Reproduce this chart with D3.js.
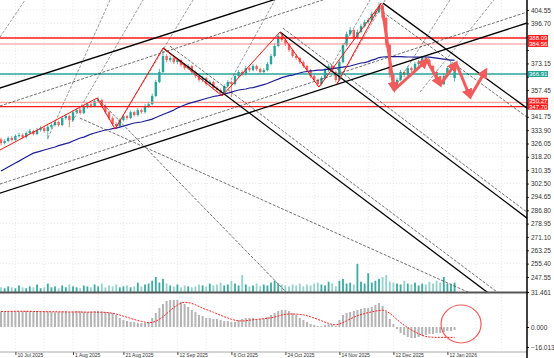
<!DOCTYPE html>
<html><head><meta charset="utf-8">
<script src="https://cdn.jsdelivr.net/npm/d3@7"></script>
<style>body{margin:0;background:#fff}svg{display:block;font-family:"Liberation Sans",Arial,sans-serif}</style>
</head><body><svg id="c" width="554" height="358"></svg>
<script>
// ---------- DATA ----------
const opens=[328.5,326.3,327.5,329.3,328.1,330.4,331.0,329.8,332.2,333.4,
331.6,334.0,335.1,333.4,335.7,336.9,338.7,336.9,341.0,342.2,
339.8,344.5,345.7,344.0,347.5,349.2,348.1,351.0,351.6,348.1,
344.5,341.0,337.5,336.3,339.8,342.2,341.0,344.5,342.8,345.7,
344.5,348.1,349.2,354.0,362.2,368.1,377.5,375.1,376.3,373.9,
375.1,372.2,370.4,371.6,368.1,365.7,363.4,364.5,361.0,362.2,
358.7,357.5,355.7,359.8,362.2,361.0,365.7,368.1,366.9,370.4,
369.2,371.6,369.8,368.1,369.2,372.8,377.5,383.4,389.2,386.9,
384.5,381.0,377.5,376.3,373.9,371.6,369.2,365.7,363.4,361.0,
364.5,369.2,371.6,368.1,363.4,373.9,383.9,390.4,392.8,388.1,
391.6,395.1,397.5,398.6,402.2,403.3,406.9,399.8,383.9,366.3,
359.8,363.4,368.1,366.3,370.4,369.2,372.8,373.9,376.3,375.1,
371.6,368.1,363.4,361.0,365.7,370.4,364.5];
const highs=[329.5,328.6,330.2,330.5,331.5,332.4,332.0,333.1,334.5,334.2,
335.2,336.3,336.0,337.0,338.0,339.8,339.5,342.0,343.4,343.0,
345.6,346.8,346.5,348.6,350.3,350.0,352.2,353.2,352.4,349.0,
345.4,342.0,338.6,340.8,343.4,343.0,345.6,345.3,346.9,346.6,
349.2,350.6,355.3,363.5,370.0,380.5,378.6,377.6,377.0,376.4,
375.8,373.2,372.8,372.4,369.0,366.6,365.8,365.2,363.4,363.0,
359.8,358.4,360.9,363.4,363.0,366.9,369.3,369.0,371.6,371.2,
372.9,372.4,370.6,370.4,374.0,378.8,384.8,390.8,390.2,387.6,
385.3,381.8,378.6,377.0,374.8,372.4,370.0,366.6,364.2,365.6,
370.4,372.8,372.3,369.0,375.0,385.2,391.8,394.6,393.4,393.0,
396.4,398.8,400.0,403.6,404.8,409.0,407.6,400.6,384.6,367.2,
364.8,369.4,369.0,371.6,371.2,374.0,375.2,377.6,377.2,375.9,
372.4,368.9,364.2,366.8,371.6,374.0,372.0];
const lows=[325.0,325.6,326.8,327.2,327.6,329.5,328.9,329.0,331.3,330.8,
330.9,333.0,332.5,328.5,334.8,336.0,335.8,336.2,340.0,335.7,
339.0,343.6,343.0,343.2,346.5,347.0,347.4,350.0,347.2,343.6,
340.0,336.5,334.8,335.6,339.0,340.0,340.3,341.8,341.9,343.5,
343.8,347.0,348.5,353.4,361.5,367.4,373.8,374.0,372.8,372.6,
371.0,369.3,369.5,367.0,364.6,362.3,362.4,360.0,359.8,357.6,
356.3,354.6,355.0,359.0,353.4,360.2,364.8,365.8,366.0,368.0,
368.4,368.8,367.0,367.2,368.5,372.0,376.8,382.6,385.8,383.4,
380.0,376.5,375.2,372.8,370.5,368.0,364.6,362.4,359.8,360.2,
363.8,368.4,367.0,362.0,362.8,373.2,383.0,389.4,387.0,387.2,
390.8,394.2,396.4,397.8,401.0,402.5,398.6,382.5,364.8,358.0,
358.8,362.6,365.0,365.5,368.0,368.4,371.8,373.0,374.0,370.5,
367.0,362.3,359.8,360.3,365.0,369.6,362.5];
const closes=[326.3,327.5,329.3,328.1,330.4,331.0,329.8,332.2,333.4,331.6,
334.0,335.1,333.4,335.7,336.9,338.7,336.9,341.0,342.2,339.8,
344.5,345.7,344.0,347.5,349.2,348.1,351.0,351.6,348.1,344.5,
341.0,337.5,336.3,339.8,342.2,341.0,344.5,342.8,345.7,344.5,
348.1,349.2,354.0,362.2,368.1,377.5,375.1,376.3,373.9,375.1,
372.2,370.4,371.6,368.1,365.7,363.4,364.5,361.0,362.2,358.7,
357.5,355.7,359.8,362.2,361.0,365.7,368.1,366.9,370.4,369.2,
371.6,369.8,368.1,369.2,372.8,377.5,383.4,389.2,386.9,384.5,
381.0,377.5,376.3,373.9,371.6,369.2,365.7,363.4,361.0,364.5,
369.2,371.6,368.1,363.4,373.9,383.9,390.4,392.8,388.1,391.6,
395.1,397.5,398.6,402.2,403.3,406.9,399.8,383.9,366.3,359.8,
363.4,368.1,366.3,370.4,369.2,372.8,373.9,376.3,375.1,371.6,
368.1,363.4,361.0,365.7,370.4,372.8,371.0];
const movingAvg=[309.9,311.0,312.2,313.4,314.6,315.7,316.9,318.1,319.3,320.4,
321.0,321.6,322.2,322.8,323.4,324.0,324.8,325.4,326.0,326.6,
327.5,328.4,329.3,329.8,330.7,331.6,332.2,332.8,333.4,334.0,
334.3,334.8,335.1,335.7,336.3,336.9,337.5,338.1,338.4,338.7,
339.3,339.8,340.4,341.3,342.2,343.1,344.0,344.8,345.7,346.9,
347.8,348.7,349.5,350.1,350.7,351.3,351.9,352.5,353.1,353.7,
354.0,354.5,355.1,355.7,356.3,356.9,357.5,357.8,358.1,358.7,
358.9,359.5,360.1,360.7,361.3,362.2,363.1,363.9,364.8,365.4,
366.0,366.3,366.9,367.5,368.1,368.4,368.7,368.9,369.2,369.2,
369.5,369.8,370.1,370.4,370.7,371.0,371.3,371.6,372.2,372.8,
373.4,373.6,374.2,375.1,375.7,376.6,376.9,377.0,377.1,377.1,
377.2,377.1,377.0,376.9,376.9,376.8,376.8,376.9,376.9,376.8,
376.6,376.3,376.0,375.7,375.4,375.1,375.1];
const volumes=[5,4,6,5,4,7,5,4,6,5,8,4,5,9,5,6,4,7,5,8,6,
5,4,7,6,5,8,6,9,5,7,6,8,5,6,7,5,6,10,6,8,9,
12,16,10,14,9,7,6,8,5,7,6,5,6,8,7,6,9,7,8,10,7,
8,12,9,7,18,8,6,7,9,6,8,7,10,12,9,8,7,6,8,7,9,
6,8,7,9,10,8,7,11,9,6,12,14,9,10,8,30,11,9,20,10,12,
14,16,18,11,10,9,8,12,9,8,10,7,9,8,11,9,12,10,16,9,8,10];
const macdHist=[12.0,12.4,12.6,12.8,12.6,12.4,12.8,13.0,12.6,12.4,12.2,12.6,12.8,12.4,12.0,11.8,12.2,12.6,12.4,12.0,12.4,12.8,12.6,12.2,12.0,12.4,12.8,13.0,12.4,12.0,11.6,
11.2,9.6,7.2,5.6,4.8,4.0,4.0,3.2,3.2,3.2,4.0,
7.2,11.2,15.2,18.4,20.8,21.6,21.6,21.6,20.0,18.4,16.0,
13.6,12.0,9.6,8.8,7.2,7.2,6.4,6.4,5.6,4.8,4.8,
4.0,4.0,5.6,6.4,7.2,7.2,7.2,6.4,6.4,6.4,
8.0,9.6,11.2,12.8,13.6,13.6,12.8,11.2,9.6,7.2,
5.6,4.0,2.4,1.6,0.8,0.8,1.6,2.4,1.6,0.8,
5.6,9.6,11.2,12.0,12.8,13.6,14.4,15.2,15.2,16.0,17.6,19.2,
16.8,12.0,6.4,2.4,-1.6,-4.8,-6.4,-8.0,-8.8,-8.8,-8.0,
-7.2,-6.4,-5.6,-5.6,-4.8,-4.8,-4.0,-3.2,-3.2,-2.4];
const macdSignal=[12.4,12.4,12.5,12.5,12.6,12.6,12.6,12.5,12.5,12.4,12.4,12.3,12.3,12.2,12.2,12.2,12.1,12.1,12.1,12.0,12.0,12.0,12.0,11.9,11.9,11.9,11.9,11.8,11.8,11.7,
11.4,11.0,10.4,9.6,8.7,7.8,6.9,6.0,5.2,4.5,3.9,3.4,
3.6,4.6,6.2,8.2,10.6,13.2,15.6,17.6,19.2,
19.8,19.6,18.9,17.8,16.4,15.0,14.0,
13.0,11.8,10.6,9.4,8.2,7.2,6.2,5.4,4.9,
4.8,5.0,5.4,5.8,6.1,6.4,6.6,6.9,
7.4,8.0,8.8,9.6,10.2,10.4,10.4,10.3,10.0,9.7,
9.0,8.2,7.2,6.1,5.0,3.9,2.9,2.1,1.6,
2.4,3.6,5.0,6.4,7.8,9.0,10.0,
10.8,11.5,12.1,12.7,13.2,13.5,
12.8,11.0,8.6,6.0,3.6,1.4,-0.6,-2.4,-4.0,-5.4,-6.6,-7.6,
-8.0,-8.2,-8.3,-8.3,-8.3,-8.3,-8.3,-8.3];

const priceTicks=["404.55","396.70","388.85","381.00","373.15","365.30","357.45","349.60","341.75","333.90","326.05","318.20","310.35","302.50","294.65","286.80","278.95","271.10","263.25","255.40","247.55"];
const dateIdx=[4,20,34,49,64,79,94,109,124];
const dateLabels=["10 Jul 2025","1 Aug 2025","21 Aug 2025","12 Sep 2025","6 Oct 2025","24 Oct 2025","14 Nov 2025","12 Dec 2025","12 Jan 2026"];
const gridIdx=[4,12,20,27,34,42,49,57,64,72,79,87,94,102,109,117,124,132,139];
const levelPrices=[388.09,384.56,366.91,350.27,347.70];
const levelLabels=["388.09","384.56","366.91","350.27","347.70"];
const levelKinds=["red","pink","teal","pink","red"];
const volumeMaxLabel="31.461";
const macdTicks=[0,-16.013];

// trend objects: [idx1, price1, idx2, price2]
const channelLines=[[-0.28,358.7,75.56,410.4],[-0.28,296.9,146.1,396.9],[106.1,408.6,146.1,346.9],[77.5,391.6,146.1,282.2],[45.0,382.2,135.0,238.7]];
const dashedLines=[[-0.28,302.2,146.1,403.3],[-0.28,348.1,77.5,402.2],[106.1,403.3,146.1,341.6],[78.3,393.9,146.1,285.7],[46.9,383.4,137.8,238.7],[26.7,352.8,79.2,238.7],[21.9,341.0,55.3,309.3]];
const steepRays=[[-0.28,388.6,6.67,410.4],[13.06,329.3,30.28,410.4],[19.72,338.7,39.44,410.4],[31.67,334.5,53.33,410.4],[61.4,354.0,76.1,410.4],[88.33,359.2,102.5,410.4],[93.33,361.0,106.7,410.4],[108.9,357.5,124.7,410.4],[116.4,356.3,136.9,410.4]];
const zigIdx=[-0.3,26.7,31.7,45.0,61.4,77.5,88.3,105.6];
const zigPrice=[322.2,352.8,334.6,382.2,354.0,391.6,359.2,408.6];
const zig2Idx=[93.3,105.6];
const zig2Price=[361.0,408.6];
const arrowIdx=[105.8,109.2,118.3,122.0,126.4,130.3,134.7];
const arrowPrice=[407.5,357.5,375.1,360.5,373.4,353.4,369.2];
const circleIdx=127.8, circleMacd=2.4;

// ---------- CHART ----------
const svg=d3.select("#c");
const PR=527;
const x=d3.scaleLinear().domain([0,126]).range([1,454.6]);
const y=d3.scaleLinear().domain([247.55,404.55]).range([277,10]);
const yv=d3.scaleLinear().domain([0,32]).range([292,262]);
const ym=d3.scaleLinear().domain([-16.013,0]).range([347,327]);

const defs=svg.append("defs");
defs.append("clipPath").attr("id","cp").append("rect").attr("x",0).attr("y",0).attr("width",PR).attr("height",292);
defs.append("clipPath").attr("id","cm").append("rect").attr("x",0).attr("y",293).attr("width",PR).attr("height",59);
defs.append("marker").attr("id","ah").attr("markerUnits","userSpaceOnUse").attr("markerWidth",11).attr("markerHeight",11)
  .attr("refX",8).attr("refY",5.5).attr("orient","auto")
  .append("path").attr("d","M0,0 L11,5.5 L0,11 Z").attr("fill","#f25b5b");

// grid
const grid=svg.append("g");
priceTicks.forEach(t=>grid.append("line").attr("x1",0).attr("x2",PR).attr("y1",y(+t)).attr("y2",y(+t))
  .attr("stroke","#dcdcdc").attr("stroke-width",0.6).attr("stroke-dasharray","1,2"));
gridIdx.forEach(i=>grid.append("line").attr("x1",x(i)).attr("x2",x(i)).attr("y1",0).attr("y2",352)
  .attr("stroke","#dcdcdc").attr("stroke-width",0.6).attr("stroke-dasharray","1,2"));

const pg=svg.append("g").attr("clip-path","url(#cp)");
// volume
pg.selectAll(".v").data(volumes).enter().append("rect")
  .attr("x",(d,i)=>x(i)-0.9).attr("width",1.8).attr("y",d=>yv(d)).attr("height",d=>292-yv(d))
  .attr("fill",(d,i)=>closes[i]>=opens[i]?"#3aab9f":"#92d2ca");

// candles
const up="#26a69a", dn="#ef5f5c";
closes.forEach((c,i)=>{
  const o=opens[i], col=c>=o?up:dn;
  pg.append("line").attr("x1",x(i)).attr("x2",x(i)).attr("y1",y(highs[i])).attr("y2",y(lows[i])).attr("stroke",col).attr("stroke-width",0.8);
  const t=y(Math.max(o,c)), b=y(Math.min(o,c));
  pg.append("rect").attr("x",x(i)-1.2).attr("width",2.4).attr("y",t).attr("height",Math.max(0.8,b-t)).attr("fill",col);
});

// horizontal levels
const levelColor={red:"#ff1a1a",pink:"#ff8a8a",teal:"#26a69a"};
levelPrices.forEach((p,k)=>pg.append("line").attr("x1",0).attr("x2",PR).attr("y1",y(p)).attr("y2",y(p))
  .attr("stroke",levelColor[levelKinds[k]]).attr("stroke-width",levelKinds[k]==="pink"?1:1.3));

// moving average
pg.append("path").datum(movingAvg).attr("fill","none").attr("stroke","#1d1d96").attr("stroke-width",1.2)
  .attr("d",d3.line().x((d,i)=>x(i)).y(d=>y(d)));

function fullLine(L){
  const x1=x(L[0]),y1=y(L[1]),x2=x(L[2]),y2=y(L[3]);
  const s=(y2-y1)/(x2-x1);
  return [[-60,y1+s*(-60-x1)],[620,y1+s*(620-x1)]];
}
function ray(L){
  const x1=x(L[0]),y1=y(L[1]),x2=x(L[2]),y2=y(L[3]);
  const dx=x2-x1,dy=y2-y1,len=Math.hypot(dx,dy);
  return [[x1,y1],[x1+dx/len*900,y1+dy/len*900]];
}
steepRays.forEach(L=>{const p=ray(L);pg.append("line").attr("x1",p[0][0]).attr("y1",p[0][1]).attr("x2",p[1][0]).attr("y2",p[1][1])
  .attr("stroke","#555").attr("stroke-width",0.6).attr("stroke-dasharray","3,1.5");});
dashedLines.forEach((L,k)=>{const p=k<2?fullLine(L):ray(L);pg.append("line").attr("x1",p[0][0]).attr("y1",p[0][1]).attr("x2",p[1][0]).attr("y2",p[1][1])
  .attr("stroke","#333").attr("stroke-width",0.7).attr("stroke-dasharray","3,1.5");});
channelLines.forEach((L,k)=>{const p=k<2?fullLine(L):ray(L);pg.append("line").attr("x1",p[0][0]).attr("y1",p[0][1]).attr("x2",p[1][0]).attr("y2",p[1][1])
  .attr("stroke","#000").attr("stroke-width",1.3);});

// zigzag
const zl=d3.line().x(d=>x(d[0])).y(d=>y(d[1]));
pg.append("path").datum(zigIdx.map((d,i)=>[d,zigPrice[i]])).attr("fill","none").attr("stroke","#ff1010").attr("stroke-width",1).attr("d",zl);
pg.append("path").datum(zig2Idx.map((d,i)=>[d,zig2Price[i]])).attr("fill","none").attr("stroke","#ff1010").attr("stroke-width",1).attr("d",zl);

// projection arrows
for(let k=0;k<arrowIdx.length-1;k++){
  pg.append("line").attr("x1",x(arrowIdx[k])).attr("y1",y(arrowPrice[k])).attr("x2",x(arrowIdx[k+1])).attr("y2",y(arrowPrice[k+1]))
    .attr("stroke","#f25b5b").attr("stroke-width",3).attr("marker-end","url(#ah)");
}

// panel separators
svg.append("line").attr("x1",0).attr("x2",PR).attr("y1",292.5).attr("y2",292.5).attr("stroke","#555").attr("stroke-width",2);
svg.append("line").attr("x1",0).attr("x2",PR).attr("y1",352).attr("y2",352).attr("stroke","#aaa").attr("stroke-width",1);

// MACD
const mg=svg.append("g").attr("clip-path","url(#cm)");
mg.selectAll(".h").data(macdHist).enter().append("rect")
  .attr("x",(d,i)=>x(i)-1).attr("width",2).attr("y",d=>Math.min(ym(d),ym(0))).attr("height",d=>Math.abs(ym(d)-ym(0)))
  .attr("fill","#b5b5b5");
mg.append("path").datum(macdSignal).attr("fill","none").attr("stroke","#ff2020").attr("stroke-width",1).attr("stroke-dasharray","2,1.2")
  .attr("d",d3.line().x((d,i)=>x(i)).y(d=>ym(d)));
mg.append("ellipse").attr("cx",x(circleIdx)).attr("cy",ym(circleMacd)).attr("rx",20).attr("ry",19)
  .attr("fill","none").attr("stroke","#f25b5b").attr("stroke-width",1.2);

// level boxes positions (computed first so covered tick labels can be skipped)
const boxes=levelPrices.map((p,k)=>({c:y(p),k}));
boxes.sort((a,b)=>a.c-b.c);
for(let j=boxes.length-1;j>0;j--){ if(boxes[j].c-boxes[j-1].c<6) boxes[j-1].c=boxes[j].c-6; }
const covered=v=>boxes.some(b=>Math.abs(y(v)-b.c)<7);

// right axis
const ax=svg.append("g").attr("transform",`translate(${PR},0)`)
  .call(d3.axisRight(y).tickValues(priceTicks.map(Number)).tickSize(2).tickPadding(2)
    .tickFormat((d,i)=>covered(d)?"":priceTicks[i]));
ax.select(".domain").remove();
ax.selectAll("text").attr("font-size",6.5).attr("fill","#333").attr("font-family","Liberation Sans, Arial");
ax.selectAll("line").attr("stroke","#333");
const am=svg.append("g").attr("transform",`translate(${PR},0)`)
  .call(d3.axisRight(ym).tickValues(macdTicks).tickSize(2).tickPadding(2).tickFormat(d3.format(".3f")));
am.select(".domain").remove();
am.selectAll("text").attr("font-size",6.5).attr("fill","#333").attr("font-family","Liberation Sans, Arial");
const av=svg.append("g").attr("transform",`translate(${PR},0)`)
  .call(d3.axisRight(yv).tickValues([0]).tickSize(2).tickPadding(2).tickFormat(()=>volumeMaxLabel));
av.select(".domain").remove();
av.selectAll("text").attr("font-size",6.5).attr("fill","#333").attr("font-family","Liberation Sans, Arial");
svg.append("line").attr("x1",PR).attr("x2",PR).attr("y1",0).attr("y2",358).attr("stroke","#000").attr("stroke-width",1.5);

const boxColor={red:"#ff1a1a",pink:"#ff2a2a",teal:"#26a69a"};
boxes.forEach(b=>{
  svg.append("rect").attr("x",528).attr("y",b.c-3).attr("width",20).attr("height",6).attr("fill",boxColor[levelKinds[b.k]]);
  svg.append("text").attr("x",529).attr("y",b.c+2.2).attr("font-size",6).attr("fill","#fff").text(levelLabels[b.k]);
});

// date axis
const ad=svg.append("g").attr("transform","translate(0,352)")
  .call(d3.axisBottom(x).tickValues(dateIdx).tickSize(3).tickPadding(0).tickFormat((d,i)=>dateLabels[i]));
ad.select(".domain").remove();
ad.selectAll("line").attr("stroke","#444");
ad.selectAll("text").attr("text-anchor","start").attr("dx",1.5).attr("dy",0).attr("y",4.6)
  .attr("font-size",5).attr("fill","#333").attr("font-family","Liberation Sans, Arial");
</script></body></html>
